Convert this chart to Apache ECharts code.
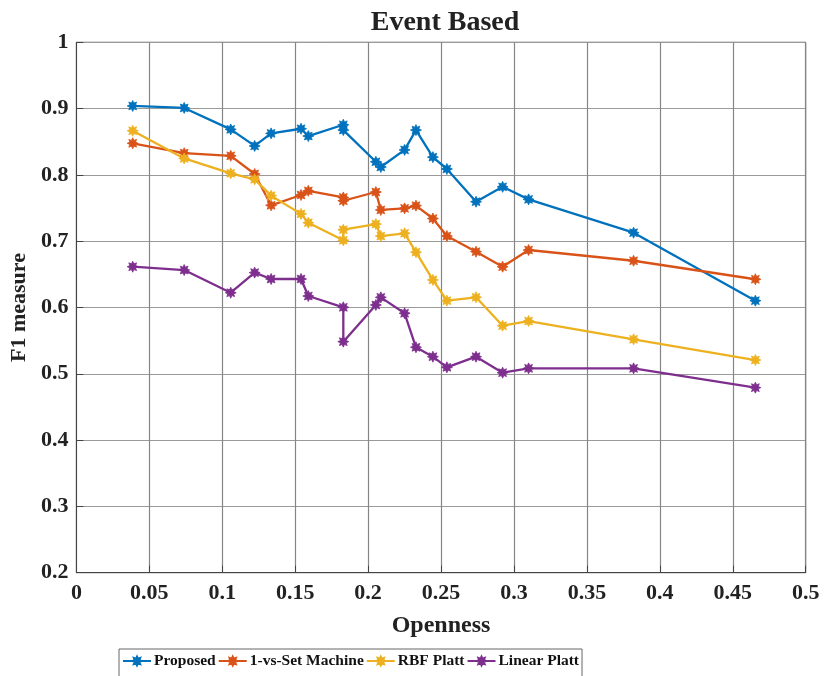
<!DOCTYPE html>
<html>
<head>
<meta charset="utf-8">
<script src="https://cdn.jsdelivr.net/npm/echarts@6/dist/echarts.min.js"></script>
<style>html,body{margin:0;padding:0;background:#fff;}#c{width:825px;height:676px;}</style>
</head>
<body>
<div id="c"></div>
<script>
const seriesNames = ['Proposed', '1-vs-Set Machine', 'RBF Platt', 'Linear Platt'];
const openness = [0.0386, 0.0739, 0.1058, 0.1222, 0.1335, 0.154, 0.159, 0.183, 0.183, 0.2053, 0.2087, 0.225, 0.2328, 0.2444, 0.254, 0.274, 0.2922, 0.31, 0.382, 0.4655];
const proposed = [0.904, 0.901, 0.8686, 0.8437, 0.8626, 0.8696, 0.8586, 0.8756, 0.8676, 0.8198, 0.8119, 0.8377, 0.8676, 0.8268, 0.8089, 0.7596, 0.782, 0.7631, 0.7128, 0.6103];
const oneVsSet = [0.8477, 0.8328, 0.8288, 0.8014, 0.7541, 0.7697, 0.776, 0.766, 0.761, 0.7742, 0.7472, 0.7496, 0.7536, 0.7342, 0.7078, 0.6842, 0.6615, 0.6867, 0.6705, 0.6426];
const rbfPlatt = [0.8666, 0.8248, 0.8024, 0.7933, 0.7687, 0.7412, 0.7279, 0.7014, 0.7173, 0.7259, 0.7078, 0.7119, 0.6834, 0.6416, 0.6103, 0.6154, 0.5725, 0.5796, 0.552, 0.5208];
const linearPlatt = [0.6615, 0.6565, 0.6223, 0.6526, 0.643, 0.643, 0.6173, 0.6003, 0.5485, 0.6038, 0.6153, 0.5913, 0.54, 0.5258, 0.5098, 0.5258, 0.5017, 0.5082, 0.5082, 0.4791];
const colors = ['#0072BD', '#D95319', '#EDB120', '#7E2F8E'];
const allValues = [proposed, oneVsSet, rbfPlatt, linearPlatt];

const FONT = '"Liberation Serif", "Times New Roman", serif';
const starPath = 'path://M10,5 L7.6,6.1 L8.54,8.54 L6.1,7.6 L5,10 L3.9,7.6 L1.46,8.54 L2.4,6.1 L0,5 L2.4,3.9 L1.46,1.46 L3.9,2.4 L5,0 L6.1,2.4 L8.54,1.46 L7.6,3.9 Z';

const chart = echarts.init(document.getElementById('c'), null, {renderer: 'canvas'});
const series = seriesNames.map((name, i) => ({
  name: name,
  type: 'line',
  data: openness.map((x, j) => [x, allValues[i][j]]),
  symbol: starPath,
  symbolSize: 11,
  showSymbol: true,
  lineStyle: {color: colors[i], width: 2.3},
  itemStyle: {color: colors[i], borderColor: colors[i], borderWidth: 0.8},
  emphasis: {disabled: true},
  animation: false
}));

chart.setOption({
  animation: false,
  backgroundColor: '#fff',
  title: {
    text: 'Event Based',
    left: 440, textAlign: 'center',
    top: 4,
    textStyle: {fontFamily: FONT, fontWeight: 'bold', fontSize: 28, color: '#222'}
  },
  grid: {
    left: 74.5, right: 19.3, top: 42.3, bottom: 103.3,
    show: true, borderColor: '#444', borderWidth: 1, backgroundColor: 'transparent'
  },
  legend: {
    left: 119, top: 649,
    data: seriesNames,
    itemWidth: 28, itemHeight: 11, itemGap: 2,
    padding: [4, 3, 12, 3],
    borderColor: '#666', borderWidth: 1,
    textStyle: {fontFamily: FONT, fontWeight: 'bold', fontSize: 15.5, color: '#111', padding: [0, 0, 0, -2]}
  },
  xAxis: {
    type: 'value', min: 0, max: 0.5, interval: 0.05,
    name: 'Openness', nameLocation: 'middle', nameGap: 41,
    nameTextStyle: {fontFamily: FONT, fontWeight: 'bold', fontSize: 24, color: '#222'},
    axisLine: {show: true, lineStyle: {color: '#444'}},
    axisTick: {show: true, inside: true, length: 7, lineStyle: {color: '#444'}},
    axisLabel: {fontFamily: FONT, fontWeight: 'bold', fontSize: 22, color: '#222', margin: 10,
      formatter: v => String(+v.toFixed(2))},
    splitLine: {show: true, lineStyle: {color: '#858585', width: 1.2}}
  },
  yAxis: {
    type: 'value', min: 0.2, max: 1, interval: 0.1,
    name: 'F1 measure', nameLocation: 'middle', nameGap: 42,
    nameTextStyle: {fontFamily: FONT, fontWeight: 'bold', fontSize: 22, color: '#222'},
    axisLine: {show: true, lineStyle: {color: '#444'}},
    axisTick: {show: true, inside: true, length: 7, lineStyle: {color: '#444'}},
    axisLabel: {fontFamily: FONT, fontWeight: 'bold', fontSize: 22, color: '#222', margin: 8,
      formatter: v => String(+v.toFixed(1))},
    splitLine: {show: true, lineStyle: {color: '#9a9a9a', width: 1.2}}
  },
  series: series
});
</script>
</body>
</html>
